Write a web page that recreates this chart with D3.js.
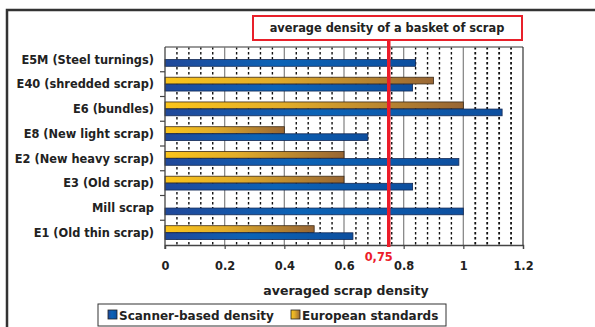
<!DOCTYPE html>
<html>
<head>
<meta charset="utf-8">
<script src="https://cdn.jsdelivr.net/npm/d3@7"></script>
<style>
  body { margin: 0; background: #fff; }
  svg  { display: block; font-family: "DejaVu Sans", sans-serif; font-weight: bold; }
</style>
</head>
<body>
<svg id="chart" width="595" height="327"></svg>
<script>
const categories = ['E5M (Steel turnings)', 'E40 (shredded scrap)', 'E6 (bundles)', 'E8 (New light scrap)',
                    'E2 (New heavy scrap)', 'E3 (Old scrap)', 'Mill scrap', 'E1 (Old thin scrap)']
const scanner    = [0.84, 0.83, 1.13, 0.68, 0.985, 0.83, 1.0, 0.63]
const european   = [null, 0.9, 1.0, 0.4, 0.6, 0.6, null, 0.5]
const xTicks     = [0, 0.2, 0.4, 0.6, 0.8, 1, 1.2]
const average    = 0.75

const
  svg        = d3.select('#chart'),
  plotLeft   = 165,
  plotRight  = 523,
  plotTop    = 47,
  plotBottom = 245

const x  = d3.scaleLinear().domain([0, 1.2]).range([plotLeft, plotRight])
const y0 = d3.scaleBand().domain(categories).range([plotTop, plotBottom])
const y1 = d3.scaleBand().domain(['european', 'scanner']).range([0, y0.bandwidth()])
  .paddingInner(0.05).paddingOuter(0.77)

// gradients
const defs = svg.append('defs')
const blue = defs.append('linearGradient').attr('id', 'gBlue')
blue.append('stop').attr('offset', '0%').attr('stop-color', '#20489a')
blue.append('stop').attr('offset', '45%').attr('stop-color', '#0b63b6')
blue.append('stop').attr('offset', '100%').attr('stop-color', '#0d4f9f')
const gold = defs.append('linearGradient').attr('id', 'gGold')
gold.append('stop').attr('offset', '0%').attr('stop-color', '#fbc51b')
gold.append('stop').attr('offset', '40%').attr('stop-color', '#e2ad2a')
gold.append('stop').attr('offset', '100%').attr('stop-color', '#986634')

// outer frame (top and left only visible)
svg.append('path')
  .attr('d', 'M7,328 V10 H595')
  .attr('fill', 'none').attr('stroke', '#333').attr('stroke-width', 2.5)

// minor dotted grid
const minor = d3.range(1, 30).map(i => i * 0.04).filter(v => Math.abs(v / 0.2 - Math.round(v / 0.2)) > 0.01)
svg.append('g').selectAll('line').data(minor).join('line')
  .attr('x1', d => x(d)).attr('x2', d => x(d))
  .attr('y1', plotTop).attr('y2', plotBottom)
  .attr('stroke', '#111').attr('stroke-width', d => d > 1 ? 1.8 : 1.4)
  .attr('stroke-dasharray', '2.5,2.5')

// major grid
svg.append('g').selectAll('line').data(xTicks.slice(1, -1)).join('line')
  .attr('x1', d => x(d)).attr('x2', d => x(d))
  .attr('y1', plotTop).attr('y2', plotBottom)
  .attr('stroke', '#8a8a8a').attr('stroke-width', 1.3)

// plot border top and right
svg.append('line')
  .attr('x1', plotLeft).attr('x2', plotRight).attr('y1', plotTop).attr('y2', plotTop)
  .attr('stroke', '#777').attr('stroke-width', 1.3)
svg.append('line')
  .attr('x1', plotRight).attr('x2', plotRight).attr('y1', plotTop).attr('y2', plotBottom)
  .attr('stroke', '#333').attr('stroke-width', 1.2)

// bars
const groups = svg.append('g').selectAll('g').data(categories).join('g')
  .attr('transform', d => `translate(0,${y0(d)})`)

groups.filter((d, i) => european[i] != null).append('rect')
  .attr('x', x(0))
  .attr('y', y1('european'))
  .attr('width', d => x(european[categories.indexOf(d)]) - x(0))
  .attr('height', y1.bandwidth())
  .attr('fill', 'url(#gGold)').attr('stroke', '#3a2a18').attr('stroke-width', 0.8)

groups.append('rect')
  .attr('x', x(0))
  .attr('y', y1('scanner'))
  .attr('width', (d, i) => x(scanner[i]) - x(0))
  .attr('height', y1.bandwidth())
  .attr('fill', 'url(#gBlue)').attr('stroke', '#142a55').attr('stroke-width', 0.8)

// y axis
const yAxis = svg.append('g').attr('transform', `translate(${plotLeft},0)`)
yAxis.append('line').attr('y1', plotTop).attr('y2', plotBottom + 4).attr('stroke', '#444').attr('stroke-width', 1.3)
yAxis.selectAll('line.tk').data(d3.range(1, categories.length)).join('line')
  .attr('class', 'tk')
  .attr('x1', -5).attr('x2', 0)
  .attr('y1', i => plotTop + i * y0.step()).attr('y2', i => plotTop + i * y0.step())
  .attr('stroke', '#444').attr('stroke-width', 1.2)
yAxis.selectAll('text').data(categories).join('text')
  .attr('x', -11).attr('y', d => y0(d) + y0.bandwidth() / 2 + 4.2)
  .attr('text-anchor', 'end').attr('font-size', 11.4).attr('fill', '#222')
  .text(d => d)

// x axis
const xAxis = svg.append('g').attr('transform', `translate(0,${plotBottom})`)
  .call(d3.axisBottom(x).tickValues(xTicks).tickSize(4).tickPadding(13).tickFormat(d => d))
xAxis.select('.domain').attr('stroke', '#444').attr('stroke-width', 1.3)
xAxis.selectAll('.tick line').attr('stroke', '#444').attr('stroke-width', 1.2)
xAxis.selectAll('text')
  .attr('font-family', '"DejaVu Sans", sans-serif')
  .attr('font-weight', 'bold').attr('font-size', 11.4).attr('fill', '#222')

svg.append('text')
  .attr('x', 346).attr('y', 295)
  .attr('text-anchor', 'middle').attr('font-size', 12.5).attr('fill', '#222')
  .text('averaged scrap density')

// average line and title box
svg.append('line')
  .attr('x1', x(average)).attr('x2', x(average))
  .attr('y1', 40).attr('y2', plotBottom + 2)
  .attr('stroke', '#ec1c2a').attr('stroke-width', 3.5)

svg.append('rect')
  .attr('x', 253).attr('y', 16).attr('width', 269).attr('height', 24)
  .attr('fill', '#fff').attr('stroke', '#e8202a').attr('stroke-width', 2)
svg.append('text')
  .attr('x', 387).attr('y', 32)
  .attr('text-anchor', 'middle').attr('font-size', 11.4).attr('fill', '#222')
  .text('average density of a basket of scrap')

svg.append('text')
  .attr('x', x(average) + 4).attr('y', 261)
  .attr('text-anchor', 'end').attr('font-size', 11.4).attr('fill', '#ec1c2a')
  .text('0,75')

// legend
const legend = svg.append('g')
legend.append('rect')
  .attr('x', 98).attr('y', 304).attr('width', 348).attr('height', 22)
  .attr('fill', '#fff').attr('stroke', '#333').attr('stroke-width', 1)
const legendItems = [
  { label: 'Scanner-based density', fill: 'url(#gBlue)', x: 108 },
  { label: 'European standards',    fill: 'url(#gGold)', x: 291 }
]
legend.selectAll('rect.sw').data(legendItems).join('rect')
  .attr('class', 'sw')
  .attr('x', d => d.x).attr('y', 310).attr('width', 9).attr('height', 9)
  .attr('fill', d => d.fill).attr('stroke', '#222').attr('stroke-width', 0.8)
legend.selectAll('text').data(legendItems).join('text')
  .attr('x', d => d.x + 11).attr('y', 319.5)
  .attr('font-size', 12).attr('fill', '#222')
  .text(d => d.label)
</script>
</body>
</html>
